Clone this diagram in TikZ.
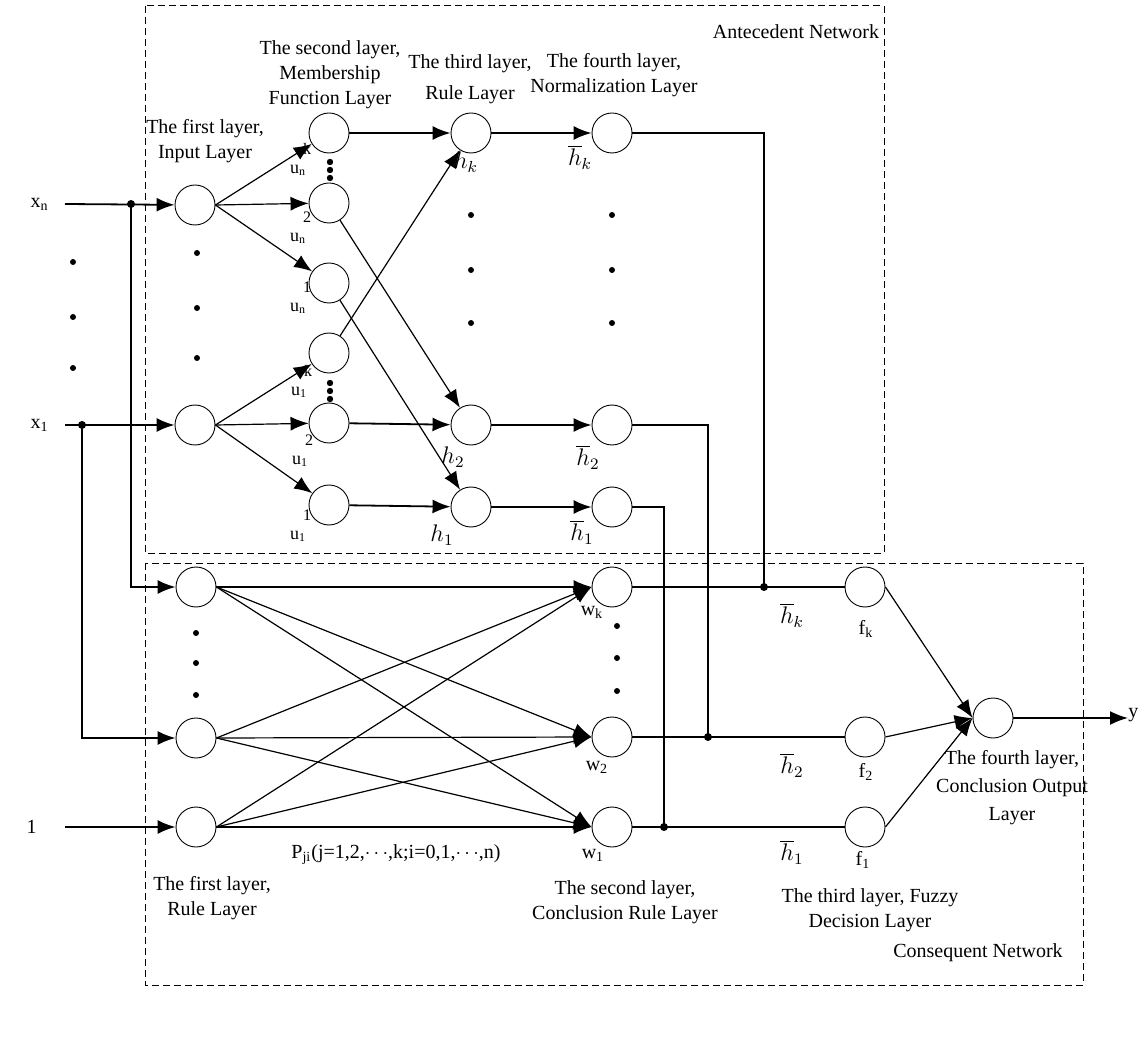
\documentclass[tikz,border=0pt]{standalone}
\usepackage{fontspec}
\setmainfont{Liberation Serif}
\usetikzlibrary{arrows.meta}
\tikzset{
  neuron/.style={circle,draw,line width=0.45pt,minimum size=20pt,inner sep=0pt},
  arr/.style={line width=0.9pt,-{Latex[length=9pt,width=7pt]}},
  tarr/.style={line width=0.6pt,-{Latex[length=9pt,width=7pt]}},
  conn/.style={line width=0.9pt},
  netbox/.style={line width=0.5pt,dash pattern=on 3.5pt off 2pt},
  lab/.style={align=center,font=\fontsize{10}{12.5}\selectfont,inner sep=0pt},
  ulab/.style={align=center,font=\fontsize{9}{9.5}\selectfont,inner sep=0pt},
  hlab/.style={font=\large,inner sep=0pt}
}
\begin{document}
\begin{tikzpicture}[x=0.5pt,y=-0.5pt]
\useasboundingbox (0,0) rectangle (1146,1037);

% network boxes
\draw[netbox] (145,6) rectangle (884,553);
\draw[netbox] (145,563) rectangle (1083,985);
\node[lab] (antnet) at (796,32) {Antecedent Network};
\node[lab] (connet) at (978,953) {Consequent Network};

% antecedent network
\node[neuron] (xn) at (195,205) {};
\node[neuron] (x1) at (195,425) {};
\node[neuron] (unk) at (329,133) {};
\node[neuron] (un2) at (329,203) {};
\node[neuron] (un1) at (329,283) {};
\node[neuron] (u1k) at (329,353) {};
\node[neuron] (u12) at (329,423) {};
\node[neuron] (u11) at (329,505) {};
\node[neuron] (hk) at (471,133) {};
\node[neuron] (h2) at (471,425) {};
\node[neuron] (h1) at (471,507) {};
\node[neuron] (nhk) at (612,133) {};
\node[neuron] (nh2) at (612,425) {};
\node[neuron] (nh1) at (612,507) {};

% consequent network
\node[neuron] (rk) at (196,587) {};
\node[neuron] (r2) at (196,738) {};
\node[neuron] (r1) at (196,827) {};
\node[neuron] (wk) at (612,587) {};
\node[neuron] (w2) at (612,737) {};
\node[neuron] (w1) at (612,827) {};
\node[neuron] (fk) at (865,587) {};
\node[neuron] (f2) at (865,737) {};
\node[neuron] (f1) at (865,827) {};
\node[neuron] (out) at (993,718) {};

% inputs
\coordinate (sxn) at (65,204);
\coordinate (sx1) at (65,425);
\coordinate (sone) at (65,827);
\node[lab,left=8pt] (lxn) at (sxn) {x\textsubscript{n}};
\node[lab,left=8pt] (lx1) at (sx1) {x\textsubscript{1}};
\node[lab,left=14pt] (lone) at (sone) {1};
\coordinate (jxn) at (131,204);
\coordinate (jx1) at (82,425);
\draw[arr] (sxn) -- (xn);
\draw[arr] (sx1) -- (x1);
\draw[arr] (sone) -- (r1);
\fill (jxn) circle (2pt);
\fill (jx1) circle (2pt);
\draw[arr] (jxn) |- (rk);
\draw[arr] (jx1) |- (r2);

% dots
\foreach \y in {262,317,368} \fill (73,\y) circle (1.5pt);
\foreach \y in {253,308,358} \fill (197,\y) circle (1.5pt);
\foreach \y in {162,170,178,383,391,399} \fill (330,\y) circle (1.6pt);
\foreach \y in {215,270,323} {
  \fill (471,\y) circle (1.5pt);
  \fill (612,\y) circle (1.5pt);
}
\foreach \y in {633,663,695} \fill (196,\y) circle (1.5pt);
\foreach \y in {626,658,691} \fill (617,\y) circle (1.5pt);

% input to membership
\foreach \b in {unk,un2,un1} \draw[tarr] (xn.east) -- (\b);
\foreach \b in {u1k,u12,u11} \draw[tarr] (x1.east) -- (\b);

% membership to rule
\draw[arr] (unk) -- (hk);
\draw[tarr] (un2) -- (h2);
\draw[tarr] (un1) -- (h1);
\draw[tarr] (u1k) -- (hk);
\draw[arr] (u12) -- (h2);
\draw[arr] (u11) -- (h1);

% rule to normalization
\draw[arr] (hk) -- (nhk);
\draw[arr] (h2) -- (nh2);
\draw[arr] (h1) -- (nh1);

% normalization to decision layer
\coordinate (jk) at (764,587);
\coordinate (j2) at (708,737);
\coordinate (j1) at (664,827);
\draw[conn] (nhk) -| (jk);
\draw[conn] (nh2) -| (j2);
\draw[conn] (nh1) -| (j1);
\fill (jk) circle (2pt);
\fill (j2) circle (2pt);
\fill (j1) circle (2pt);
\draw[conn] (wk) -- (fk);
\draw[conn] (w2) -- (f2);
\draw[conn] (w1) -- (f1);

% consequent rule layer
\foreach \a in {rk,r2,r1}
  \foreach \b in {wk,w2,w1}
    \draw[tarr] (\a.east) -- (\b.west);

% output
\foreach \a in {fk,f2,f1} \draw[tarr] (\a.east) -- (out.west);
\node[lab,anchor=west] (ly) at (1128,715) {y};
\draw[arr] (out.east) -- (out.east -| ly.west);

% node labels
\node[ulab] (lunk) at (298,159) {\hspace*{9pt}{\footnotesize k}\\u\textsubscript{n}};
\node[ulab] (lun2) at (298,228) {\hspace*{9pt}{\footnotesize 2}\\u\textsubscript{n}};
\node[ulab] (lun1) at (298,298) {\hspace*{9pt}{\footnotesize 1}\\u\textsubscript{n}};
\node[ulab] (lu1k) at (299,381) {\hspace*{9pt}{\footnotesize k}\\u\textsubscript{1}};
\node[ulab] (lu12) at (300,451) {\hspace*{9pt}{\footnotesize 2}\\u\textsubscript{1}};
\node[ulab] (lu11) at (298,526) {\hspace*{9pt}{\footnotesize 1}\\u\textsubscript{1}};
\node[hlab] (lhk) at (466,162) {$h_k$};
\node[hlab] (lh2) at (453,457) {$h_2$};
\node[hlab] (lh1) at (442,535) {$h_1$};
\node[hlab] (lnhk) at (580,157) {$\overline{h}_k$};
\node[hlab] (lnh2) at (588,457) {$\overline{h}_2$};
\node[hlab] (lnh1) at (582,532) {$\overline{h}_1$};
\node[hlab] (lfhk) at (792,615) {$\overline{h}_k$};
\node[hlab] (lfh2) at (792,765) {$\overline{h}_2$};
\node[hlab] (lfh1) at (792,852) {$\overline{h}_1$};
\node[lab] (lwk) at (592,612) {w\textsubscript{k}};
\node[lab] (lw2) at (597,767) {w\textsubscript{2}};
\node[lab] (lw1) at (593,855) {w\textsubscript{1}};
\node[lab] (lfk) at (866,629) {f\textsubscript{k}};
\node[lab] (lf2) at (866,772) {f\textsubscript{2}};
\node[lab] (lf1) at (863,860) {f\textsubscript{1}};
\node[lab] (lp) at (396,855) {P\textsubscript{ji}(j=1,2,$\cdots$,k;i=0,1,$\cdots$,n)};

% layer labels
\node[lab] (ant1) at (205,141) {The first layer,\\Input Layer};
\node[lab] (ant2) at (330,75) {The second layer,\\Membership\\Function Layer};
\node[lab,font=\fontsize{10}{15.5}\selectfont] (ant3) at (470,79) {The third layer,\\Rule Layer};
\node[lab] (ant4) at (614,75) {The fourth layer,\\Normalization Layer};
\node[lab] (con1) at (212,898) {The first layer,\\Rule Layer};
\node[lab] (con2) at (625,902) {The second layer,\\Conclusion Rule Layer};
\node[lab] (con3) at (870,910) {The third layer, Fuzzy\\Decision Layer};
\node[lab,font=\fontsize{10}{14}\selectfont] (con4) at (1012,788) {The fourth layer,\\Conclusion Output\\Layer};
\end{tikzpicture}
\end{document}
